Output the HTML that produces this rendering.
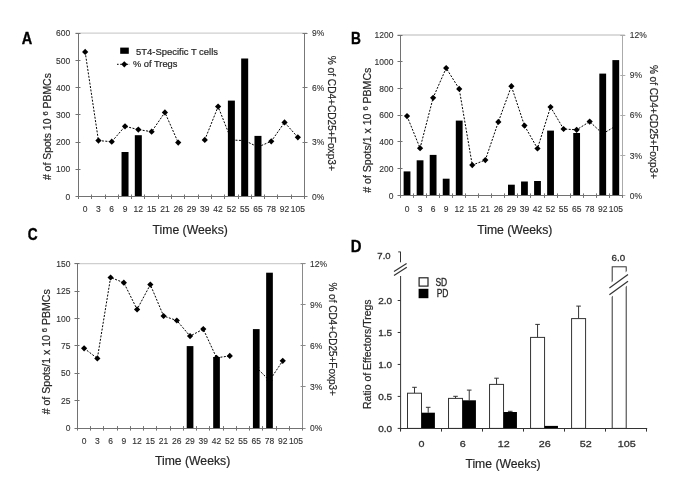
<!DOCTYPE html><html><head><meta charset="utf-8"><style>html,body{margin:0;padding:0;background:#fff;}svg{display:block;font-family:"Liberation Sans", sans-serif;filter:grayscale(1);}</style></head><body>
<svg width="685" height="496" viewBox="0 0 685 496">
<rect width="685" height="496" fill="#fff"/>
<text transform="translate(21.8,43.6) scale(0.88,1)" font-size="16.5" font-weight="bold" fill="#000" stroke="#000" stroke-width="0.35">A</text>
<text transform="translate(351.0,43.6) scale(0.83,1)" font-size="16.5" font-weight="bold" fill="#000" stroke="#000" stroke-width="0.35">B</text>
<text transform="translate(27.7,239.6) scale(0.83,1)" font-size="16.5" font-weight="bold" fill="#000" stroke="#000" stroke-width="0.35">C</text>
<text transform="translate(350.8,251.5) scale(0.9,1)" font-size="16.5" font-weight="bold" fill="#000" stroke="#000" stroke-width="0.35">D</text>
<line x1="75.50" y1="33.10" x2="307.00" y2="33.10" stroke="#cfcfcf" stroke-width="1.3" />
<line x1="75.50" y1="196.50" x2="80.50" y2="196.50" stroke="#727272" stroke-width="1" />
<text transform="translate(70.30,199.70) scale(1.0,1.07)" x="0" y="0" font-size="8.5" text-anchor="end" fill="#333333" stroke="#333333" stroke-width="0.12" >0</text>
<line x1="75.50" y1="169.50" x2="80.50" y2="169.50" stroke="#727272" stroke-width="1" />
<text transform="translate(70.30,172.47) scale(1.0,1.07)" x="0" y="0" font-size="8.5" text-anchor="end" fill="#333333" stroke="#333333" stroke-width="0.12" >100</text>
<line x1="75.50" y1="142.50" x2="80.50" y2="142.50" stroke="#727272" stroke-width="1" />
<text transform="translate(70.30,145.23) scale(1.0,1.07)" x="0" y="0" font-size="8.5" text-anchor="end" fill="#333333" stroke="#333333" stroke-width="0.12" >200</text>
<line x1="75.50" y1="114.50" x2="80.50" y2="114.50" stroke="#727272" stroke-width="1" />
<text transform="translate(70.30,118.00) scale(1.0,1.07)" x="0" y="0" font-size="8.5" text-anchor="end" fill="#333333" stroke="#333333" stroke-width="0.12" >300</text>
<line x1="75.50" y1="87.50" x2="80.50" y2="87.50" stroke="#727272" stroke-width="1" />
<text transform="translate(70.30,90.77) scale(1.0,1.07)" x="0" y="0" font-size="8.5" text-anchor="end" fill="#333333" stroke="#333333" stroke-width="0.12" >400</text>
<line x1="75.50" y1="60.50" x2="80.50" y2="60.50" stroke="#727272" stroke-width="1" />
<text transform="translate(70.30,63.53) scale(1.0,1.07)" x="0" y="0" font-size="8.5" text-anchor="end" fill="#333333" stroke="#333333" stroke-width="0.12" >500</text>
<line x1="75.50" y1="33.50" x2="80.50" y2="33.50" stroke="#727272" stroke-width="1" />
<text transform="translate(70.30,36.30) scale(1.0,1.07)" x="0" y="0" font-size="8.5" text-anchor="end" fill="#333333" stroke="#333333" stroke-width="0.12" >600</text>
<line x1="302.50" y1="196.50" x2="307.50" y2="196.50" stroke="#777777" stroke-width="1" />
<text transform="translate(312.00,199.70) scale(1.0,1.07)" x="0" y="0" font-size="8.5" text-anchor="start" fill="#333333" stroke="#333333" stroke-width="0.12" >0%</text>
<line x1="302.50" y1="142.50" x2="307.50" y2="142.50" stroke="#777777" stroke-width="1" />
<text transform="translate(312.00,145.23) scale(1.0,1.07)" x="0" y="0" font-size="8.5" text-anchor="start" fill="#333333" stroke="#333333" stroke-width="0.12" >3%</text>
<line x1="302.50" y1="87.50" x2="307.50" y2="87.50" stroke="#777777" stroke-width="1" />
<text transform="translate(312.00,90.77) scale(1.0,1.07)" x="0" y="0" font-size="8.5" text-anchor="start" fill="#333333" stroke="#333333" stroke-width="0.12" >6%</text>
<line x1="302.50" y1="33.50" x2="307.50" y2="33.50" stroke="#777777" stroke-width="1" />
<text transform="translate(312.00,36.30) scale(1.0,1.07)" x="0" y="0" font-size="8.5" text-anchor="start" fill="#333333" stroke="#333333" stroke-width="0.12" >9%</text>
<line x1="78.50" y1="194.50" x2="78.50" y2="199.00" stroke="#727272" stroke-width="1" />
<line x1="91.50" y1="194.50" x2="91.50" y2="199.00" stroke="#727272" stroke-width="1" />
<line x1="105.50" y1="194.50" x2="105.50" y2="199.00" stroke="#727272" stroke-width="1" />
<line x1="118.50" y1="194.50" x2="118.50" y2="199.00" stroke="#727272" stroke-width="1" />
<line x1="131.50" y1="194.50" x2="131.50" y2="199.00" stroke="#727272" stroke-width="1" />
<line x1="144.50" y1="194.50" x2="144.50" y2="199.00" stroke="#727272" stroke-width="1" />
<line x1="158.50" y1="194.50" x2="158.50" y2="199.00" stroke="#727272" stroke-width="1" />
<line x1="171.50" y1="194.50" x2="171.50" y2="199.00" stroke="#727272" stroke-width="1" />
<line x1="184.50" y1="194.50" x2="184.50" y2="199.00" stroke="#727272" stroke-width="1" />
<line x1="198.50" y1="194.50" x2="198.50" y2="199.00" stroke="#727272" stroke-width="1" />
<line x1="211.50" y1="194.50" x2="211.50" y2="199.00" stroke="#727272" stroke-width="1" />
<line x1="224.50" y1="194.50" x2="224.50" y2="199.00" stroke="#727272" stroke-width="1" />
<line x1="238.50" y1="194.50" x2="238.50" y2="199.00" stroke="#727272" stroke-width="1" />
<line x1="251.50" y1="194.50" x2="251.50" y2="199.00" stroke="#727272" stroke-width="1" />
<line x1="264.50" y1="194.50" x2="264.50" y2="199.00" stroke="#727272" stroke-width="1" />
<line x1="277.50" y1="194.50" x2="277.50" y2="199.00" stroke="#727272" stroke-width="1" />
<line x1="291.50" y1="194.50" x2="291.50" y2="199.00" stroke="#727272" stroke-width="1" />
<line x1="304.50" y1="194.50" x2="304.50" y2="199.00" stroke="#727272" stroke-width="1" />
<text transform="translate(85.15,212.10) scale(1.0,1.07)" x="0" y="0" font-size="8.5" text-anchor="middle" fill="#333333" stroke="#333333" stroke-width="0.12" >0</text>
<text transform="translate(98.44,212.10) scale(1.0,1.07)" x="0" y="0" font-size="8.5" text-anchor="middle" fill="#333333" stroke="#333333" stroke-width="0.12" >3</text>
<text transform="translate(111.74,212.10) scale(1.0,1.07)" x="0" y="0" font-size="8.5" text-anchor="middle" fill="#333333" stroke="#333333" stroke-width="0.12" >6</text>
<text transform="translate(125.03,212.10) scale(1.0,1.07)" x="0" y="0" font-size="8.5" text-anchor="middle" fill="#333333" stroke="#333333" stroke-width="0.12" >9</text>
<text transform="translate(138.32,212.10) scale(1.0,1.07)" x="0" y="0" font-size="8.5" text-anchor="middle" fill="#333333" stroke="#333333" stroke-width="0.12" >12</text>
<text transform="translate(151.62,212.10) scale(1.0,1.07)" x="0" y="0" font-size="8.5" text-anchor="middle" fill="#333333" stroke="#333333" stroke-width="0.12" >15</text>
<text transform="translate(164.91,212.10) scale(1.0,1.07)" x="0" y="0" font-size="8.5" text-anchor="middle" fill="#333333" stroke="#333333" stroke-width="0.12" >21</text>
<text transform="translate(178.21,212.10) scale(1.0,1.07)" x="0" y="0" font-size="8.5" text-anchor="middle" fill="#333333" stroke="#333333" stroke-width="0.12" >26</text>
<text transform="translate(191.50,212.10) scale(1.0,1.07)" x="0" y="0" font-size="8.5" text-anchor="middle" fill="#333333" stroke="#333333" stroke-width="0.12" >29</text>
<text transform="translate(204.79,212.10) scale(1.0,1.07)" x="0" y="0" font-size="8.5" text-anchor="middle" fill="#333333" stroke="#333333" stroke-width="0.12" >39</text>
<text transform="translate(218.09,212.10) scale(1.0,1.07)" x="0" y="0" font-size="8.5" text-anchor="middle" fill="#333333" stroke="#333333" stroke-width="0.12" >42</text>
<text transform="translate(231.38,212.10) scale(1.0,1.07)" x="0" y="0" font-size="8.5" text-anchor="middle" fill="#333333" stroke="#333333" stroke-width="0.12" >52</text>
<text transform="translate(244.68,212.10) scale(1.0,1.07)" x="0" y="0" font-size="8.5" text-anchor="middle" fill="#333333" stroke="#333333" stroke-width="0.12" >55</text>
<text transform="translate(257.97,212.10) scale(1.0,1.07)" x="0" y="0" font-size="8.5" text-anchor="middle" fill="#333333" stroke="#333333" stroke-width="0.12" >65</text>
<text transform="translate(271.26,212.10) scale(1.0,1.07)" x="0" y="0" font-size="8.5" text-anchor="middle" fill="#333333" stroke="#333333" stroke-width="0.12" >78</text>
<text transform="translate(284.56,212.10) scale(1.0,1.07)" x="0" y="0" font-size="8.5" text-anchor="middle" fill="#333333" stroke="#333333" stroke-width="0.12" >92</text>
<text transform="translate(297.85,212.10) scale(1.0,1.07)" x="0" y="0" font-size="8.5" text-anchor="middle" fill="#333333" stroke="#333333" stroke-width="0.12" >105</text>
<path d="M85.15 51.90L98.44 140.60L111.74 141.70L125.03 126.30L138.32 129.60L151.62 131.70L164.91 112.40L178.21 142.60" fill="none" stroke="#000" stroke-width="1" stroke-dasharray="2 1.45"/>
<path d="M85.15 48.80L88.25 51.90L85.15 55.00L82.05 51.90Z" fill="#000"/>
<path d="M98.44 137.50L101.54 140.60L98.44 143.70L95.34 140.60Z" fill="#000"/>
<path d="M111.74 138.60L114.84 141.70L111.74 144.80L108.64 141.70Z" fill="#000"/>
<path d="M125.03 123.20L128.13 126.30L125.03 129.40L121.93 126.30Z" fill="#000"/>
<path d="M138.32 126.50L141.42 129.60L138.32 132.70L135.22 129.60Z" fill="#000"/>
<path d="M151.62 128.60L154.72 131.70L151.62 134.80L148.52 131.70Z" fill="#000"/>
<path d="M164.91 109.30L168.01 112.40L164.91 115.50L161.81 112.40Z" fill="#000"/>
<path d="M178.21 139.50L181.31 142.60L178.21 145.70L175.11 142.60Z" fill="#000"/>
<path d="M204.79 139.90L218.09 106.60L231.38 140.00L244.68 140.60L257.97 147.00L271.26 141.30L284.56 122.40L297.85 137.30" fill="none" stroke="#000" stroke-width="1" stroke-dasharray="2 1.45"/>
<path d="M204.79 136.80L207.89 139.90L204.79 143.00L201.69 139.90Z" fill="#000"/>
<path d="M218.09 103.50L221.19 106.60L218.09 109.70L214.99 106.60Z" fill="#000"/>
<path d="M231.38 136.90L234.48 140.00L231.38 143.10L228.28 140.00Z" fill="#000"/>
<path d="M244.68 137.50L247.78 140.60L244.68 143.70L241.58 140.60Z" fill="#000"/>
<path d="M257.97 143.90L261.07 147.00L257.97 150.10L254.87 147.00Z" fill="#000"/>
<path d="M271.26 138.20L274.36 141.30L271.26 144.40L268.16 141.30Z" fill="#000"/>
<path d="M284.56 119.30L287.66 122.40L284.56 125.50L281.46 122.40Z" fill="#000"/>
<path d="M297.85 134.20L300.95 137.30L297.85 140.40L294.75 137.30Z" fill="#000"/>
<rect x="121.53" y="152.00" width="7.00" height="44.50" fill="#000"/>
<rect x="134.82" y="135.20" width="7.00" height="61.30" fill="#000"/>
<rect x="227.88" y="100.60" width="7.00" height="95.90" fill="#000"/>
<rect x="241.18" y="58.50" width="7.00" height="138.00" fill="#000"/>
<rect x="254.47" y="135.90" width="7.00" height="60.60" fill="#000"/>
<line x1="78.50" y1="33.10" x2="78.50" y2="197.00" stroke="#727272" stroke-width="1" />
<line x1="304.50" y1="33.10" x2="304.50" y2="197.00" stroke="#777777" stroke-width="1" />
<line x1="78.00" y1="196.50" x2="305.00" y2="196.50" stroke="#727272" stroke-width="1" />
<text x="152.60" y="233.70" font-size="12" text-anchor="start" fill="#262626" font-weight="normal" textLength="75.2" lengthAdjust="spacingAndGlyphs" stroke="#262626" stroke-width="0.2" >Time (Weeks)</text>
<text transform="translate(47.40,126.60) rotate(-90)" x="0" y="0" dy="0.35em" font-size="10.5" text-anchor="middle" fill="#262626" textLength="107" lengthAdjust="spacingAndGlyphs" stroke="#262626" stroke-width="0.2"># of Spots 10 <tspan font-size="7.5" dy="-3">6</tspan><tspan dy="3"> PBMCs</tspan></text>
<text transform="translate(331.50,113.30) rotate(90)" x="0" y="0" dy="0.35em" font-size="10.5" text-anchor="middle" fill="#262626" textLength="115" lengthAdjust="spacingAndGlyphs" stroke="#262626" stroke-width="0.2">% of CD4+CD25+Foxp3+</text>
<rect x="120.2" y="47.6" width="8.6" height="6.2" fill="#000"/>
<text x="136.00" y="55.30" font-size="9.5" text-anchor="start" fill="#262626" font-weight="normal" textLength="82" lengthAdjust="spacingAndGlyphs" stroke="#262626" stroke-width="0.2" >5T4-Specific T cells</text>
<line x1="117.00" y1="64.30" x2="130.00" y2="64.30" stroke="#000" stroke-width="1" stroke-dasharray="1.6 1.6"/>
<path d="M124.30 61.20L127.40 64.30L124.30 67.40L121.20 64.30Z" fill="#000"/>
<text x="132.90" y="67.00" font-size="9.4" text-anchor="start" fill="#262626" font-weight="normal" textLength="44.5" lengthAdjust="spacingAndGlyphs" stroke="#262626" stroke-width="0.2" >% of Tregs</text>
<line x1="397.50" y1="35.00" x2="624.80" y2="35.00" stroke="#cfcfcf" stroke-width="1.3" />
<line x1="397.50" y1="195.50" x2="402.50" y2="195.50" stroke="#727272" stroke-width="1" />
<text transform="translate(393.50,198.60) scale(1.0,1.07)" x="0" y="0" font-size="8.5" text-anchor="end" fill="#333333" stroke="#333333" stroke-width="0.12" >0</text>
<line x1="397.50" y1="168.50" x2="402.50" y2="168.50" stroke="#727272" stroke-width="1" />
<text transform="translate(393.50,171.87) scale(1.0,1.07)" x="0" y="0" font-size="8.5" text-anchor="end" fill="#333333" stroke="#333333" stroke-width="0.12" >200</text>
<line x1="397.50" y1="141.50" x2="402.50" y2="141.50" stroke="#727272" stroke-width="1" />
<text transform="translate(393.50,145.13) scale(1.0,1.07)" x="0" y="0" font-size="8.5" text-anchor="end" fill="#333333" stroke="#333333" stroke-width="0.12" >400</text>
<line x1="397.50" y1="115.50" x2="402.50" y2="115.50" stroke="#727272" stroke-width="1" />
<text transform="translate(393.50,118.40) scale(1.0,1.07)" x="0" y="0" font-size="8.5" text-anchor="end" fill="#333333" stroke="#333333" stroke-width="0.12" >600</text>
<line x1="397.50" y1="88.50" x2="402.50" y2="88.50" stroke="#727272" stroke-width="1" />
<text transform="translate(393.50,91.67) scale(1.0,1.07)" x="0" y="0" font-size="8.5" text-anchor="end" fill="#333333" stroke="#333333" stroke-width="0.12" >800</text>
<line x1="397.50" y1="61.50" x2="402.50" y2="61.50" stroke="#727272" stroke-width="1" />
<text transform="translate(393.50,64.93) scale(1.0,1.07)" x="0" y="0" font-size="8.5" text-anchor="end" fill="#333333" stroke="#333333" stroke-width="0.12" >1000</text>
<line x1="397.50" y1="35.50" x2="402.50" y2="35.50" stroke="#727272" stroke-width="1" />
<text transform="translate(393.50,38.20) scale(1.0,1.07)" x="0" y="0" font-size="8.5" text-anchor="end" fill="#333333" stroke="#333333" stroke-width="0.12" >1200</text>
<line x1="620.30" y1="195.50" x2="625.30" y2="195.50" stroke="#ababab" stroke-width="1" />
<text transform="translate(629.80,198.60) scale(1.0,1.07)" x="0" y="0" font-size="8.5" text-anchor="start" fill="#333333" stroke="#333333" stroke-width="0.12" >0%</text>
<line x1="620.30" y1="155.50" x2="625.30" y2="155.50" stroke="#ababab" stroke-width="1" />
<text transform="translate(629.80,158.50) scale(1.0,1.07)" x="0" y="0" font-size="8.5" text-anchor="start" fill="#333333" stroke="#333333" stroke-width="0.12" >3%</text>
<line x1="620.30" y1="115.50" x2="625.30" y2="115.50" stroke="#ababab" stroke-width="1" />
<text transform="translate(629.80,118.40) scale(1.0,1.07)" x="0" y="0" font-size="8.5" text-anchor="start" fill="#333333" stroke="#333333" stroke-width="0.12" >6%</text>
<line x1="620.30" y1="75.50" x2="625.30" y2="75.50" stroke="#ababab" stroke-width="1" />
<text transform="translate(629.80,78.30) scale(1.0,1.07)" x="0" y="0" font-size="8.5" text-anchor="start" fill="#333333" stroke="#333333" stroke-width="0.12" >9%</text>
<line x1="620.30" y1="35.50" x2="625.30" y2="35.50" stroke="#ababab" stroke-width="1" />
<text transform="translate(629.80,38.20) scale(1.0,1.07)" x="0" y="0" font-size="8.5" text-anchor="start" fill="#333333" stroke="#333333" stroke-width="0.12" >12%</text>
<line x1="400.50" y1="193.40" x2="400.50" y2="197.90" stroke="#727272" stroke-width="1" />
<line x1="413.50" y1="193.40" x2="413.50" y2="197.90" stroke="#727272" stroke-width="1" />
<line x1="426.50" y1="193.40" x2="426.50" y2="197.90" stroke="#727272" stroke-width="1" />
<line x1="439.50" y1="193.40" x2="439.50" y2="197.90" stroke="#727272" stroke-width="1" />
<line x1="452.50" y1="193.40" x2="452.50" y2="197.90" stroke="#727272" stroke-width="1" />
<line x1="465.50" y1="193.40" x2="465.50" y2="197.90" stroke="#727272" stroke-width="1" />
<line x1="478.50" y1="193.40" x2="478.50" y2="197.90" stroke="#727272" stroke-width="1" />
<line x1="491.50" y1="193.40" x2="491.50" y2="197.90" stroke="#727272" stroke-width="1" />
<line x1="504.50" y1="193.40" x2="504.50" y2="197.90" stroke="#727272" stroke-width="1" />
<line x1="517.50" y1="193.40" x2="517.50" y2="197.90" stroke="#727272" stroke-width="1" />
<line x1="530.50" y1="193.40" x2="530.50" y2="197.90" stroke="#727272" stroke-width="1" />
<line x1="544.50" y1="193.40" x2="544.50" y2="197.90" stroke="#727272" stroke-width="1" />
<line x1="557.50" y1="193.40" x2="557.50" y2="197.90" stroke="#727272" stroke-width="1" />
<line x1="570.50" y1="193.40" x2="570.50" y2="197.90" stroke="#727272" stroke-width="1" />
<line x1="583.50" y1="193.40" x2="583.50" y2="197.90" stroke="#727272" stroke-width="1" />
<line x1="596.50" y1="193.40" x2="596.50" y2="197.90" stroke="#727272" stroke-width="1" />
<line x1="609.50" y1="193.40" x2="609.50" y2="197.90" stroke="#727272" stroke-width="1" />
<line x1="622.50" y1="193.40" x2="622.50" y2="197.90" stroke="#727272" stroke-width="1" />
<text transform="translate(407.02,212.10) scale(1.0,1.07)" x="0" y="0" font-size="8.5" text-anchor="middle" fill="#333333" stroke="#333333" stroke-width="0.12" >0</text>
<text transform="translate(420.07,212.10) scale(1.0,1.07)" x="0" y="0" font-size="8.5" text-anchor="middle" fill="#333333" stroke="#333333" stroke-width="0.12" >3</text>
<text transform="translate(433.12,212.10) scale(1.0,1.07)" x="0" y="0" font-size="8.5" text-anchor="middle" fill="#333333" stroke="#333333" stroke-width="0.12" >6</text>
<text transform="translate(446.16,212.10) scale(1.0,1.07)" x="0" y="0" font-size="8.5" text-anchor="middle" fill="#333333" stroke="#333333" stroke-width="0.12" >9</text>
<text transform="translate(459.21,212.10) scale(1.0,1.07)" x="0" y="0" font-size="8.5" text-anchor="middle" fill="#333333" stroke="#333333" stroke-width="0.12" >12</text>
<text transform="translate(472.26,212.10) scale(1.0,1.07)" x="0" y="0" font-size="8.5" text-anchor="middle" fill="#333333" stroke="#333333" stroke-width="0.12" >15</text>
<text transform="translate(485.31,212.10) scale(1.0,1.07)" x="0" y="0" font-size="8.5" text-anchor="middle" fill="#333333" stroke="#333333" stroke-width="0.12" >21</text>
<text transform="translate(498.35,212.10) scale(1.0,1.07)" x="0" y="0" font-size="8.5" text-anchor="middle" fill="#333333" stroke="#333333" stroke-width="0.12" >26</text>
<text transform="translate(511.40,212.10) scale(1.0,1.07)" x="0" y="0" font-size="8.5" text-anchor="middle" fill="#333333" stroke="#333333" stroke-width="0.12" >29</text>
<text transform="translate(524.45,212.10) scale(1.0,1.07)" x="0" y="0" font-size="8.5" text-anchor="middle" fill="#333333" stroke="#333333" stroke-width="0.12" >39</text>
<text transform="translate(537.49,212.10) scale(1.0,1.07)" x="0" y="0" font-size="8.5" text-anchor="middle" fill="#333333" stroke="#333333" stroke-width="0.12" >42</text>
<text transform="translate(550.54,212.10) scale(1.0,1.07)" x="0" y="0" font-size="8.5" text-anchor="middle" fill="#333333" stroke="#333333" stroke-width="0.12" >52</text>
<text transform="translate(563.59,212.10) scale(1.0,1.07)" x="0" y="0" font-size="8.5" text-anchor="middle" fill="#333333" stroke="#333333" stroke-width="0.12" >55</text>
<text transform="translate(576.64,212.10) scale(1.0,1.07)" x="0" y="0" font-size="8.5" text-anchor="middle" fill="#333333" stroke="#333333" stroke-width="0.12" >65</text>
<text transform="translate(589.68,212.10) scale(1.0,1.07)" x="0" y="0" font-size="8.5" text-anchor="middle" fill="#333333" stroke="#333333" stroke-width="0.12" >78</text>
<text transform="translate(602.73,212.10) scale(1.0,1.07)" x="0" y="0" font-size="8.5" text-anchor="middle" fill="#333333" stroke="#333333" stroke-width="0.12" >92</text>
<text transform="translate(615.78,212.10) scale(1.0,1.07)" x="0" y="0" font-size="8.5" text-anchor="middle" fill="#333333" stroke="#333333" stroke-width="0.12" >105</text>
<path d="M407.02 116.10L420.07 148.20L433.12 97.80L446.16 68.10L459.21 88.90L472.26 165.10L485.31 160.10L498.35 121.90L511.40 86.20L524.45 125.60L537.49 148.50L550.54 107.00L563.59 129.00L576.64 129.80L589.68 121.60L602.73 133.80L615.78 126.00" fill="none" stroke="#000" stroke-width="1" stroke-dasharray="2 1.45"/>
<path d="M407.02 113.00L410.12 116.10L407.02 119.20L403.92 116.10Z" fill="#000"/>
<path d="M420.07 145.10L423.17 148.20L420.07 151.30L416.97 148.20Z" fill="#000"/>
<path d="M433.12 94.70L436.22 97.80L433.12 100.90L430.02 97.80Z" fill="#000"/>
<path d="M446.16 65.00L449.26 68.10L446.16 71.20L443.06 68.10Z" fill="#000"/>
<path d="M459.21 85.80L462.31 88.90L459.21 92.00L456.11 88.90Z" fill="#000"/>
<path d="M472.26 162.00L475.36 165.10L472.26 168.20L469.16 165.10Z" fill="#000"/>
<path d="M485.31 157.00L488.41 160.10L485.31 163.20L482.21 160.10Z" fill="#000"/>
<path d="M498.35 118.80L501.45 121.90L498.35 125.00L495.25 121.90Z" fill="#000"/>
<path d="M511.40 83.10L514.50 86.20L511.40 89.30L508.30 86.20Z" fill="#000"/>
<path d="M524.45 122.50L527.55 125.60L524.45 128.70L521.35 125.60Z" fill="#000"/>
<path d="M537.49 145.40L540.59 148.50L537.49 151.60L534.39 148.50Z" fill="#000"/>
<path d="M550.54 103.90L553.64 107.00L550.54 110.10L547.44 107.00Z" fill="#000"/>
<path d="M563.59 125.90L566.69 129.00L563.59 132.10L560.49 129.00Z" fill="#000"/>
<path d="M576.64 126.70L579.74 129.80L576.64 132.90L573.54 129.80Z" fill="#000"/>
<path d="M589.68 118.50L592.78 121.60L589.68 124.70L586.58 121.60Z" fill="#000"/>
<path d="M602.73 130.70L605.83 133.80L602.73 136.90L599.63 133.80Z" fill="#000"/>
<path d="M615.78 122.90L618.88 126.00L615.78 129.10L612.68 126.00Z" fill="#000"/>
<rect x="403.62" y="171.40" width="6.80" height="24.00" fill="#000"/>
<rect x="416.67" y="160.30" width="6.80" height="35.10" fill="#000"/>
<rect x="429.72" y="154.90" width="6.80" height="40.50" fill="#000"/>
<rect x="442.76" y="178.70" width="6.80" height="16.70" fill="#000"/>
<rect x="455.81" y="120.60" width="6.80" height="74.80" fill="#000"/>
<rect x="508.00" y="184.70" width="6.80" height="10.70" fill="#000"/>
<rect x="521.05" y="181.50" width="6.80" height="13.90" fill="#000"/>
<rect x="534.09" y="181.00" width="6.80" height="14.40" fill="#000"/>
<rect x="547.14" y="130.60" width="6.80" height="64.80" fill="#000"/>
<rect x="573.24" y="133.00" width="6.80" height="62.40" fill="#000"/>
<rect x="599.33" y="73.60" width="6.80" height="121.80" fill="#000"/>
<rect x="612.38" y="60.10" width="6.80" height="135.30" fill="#000"/>
<line x1="400.50" y1="35.00" x2="400.50" y2="196.00" stroke="#727272" stroke-width="1" />
<line x1="622.50" y1="35.00" x2="622.50" y2="196.00" stroke="#ababab" stroke-width="1" />
<line x1="400.00" y1="195.50" x2="623.00" y2="195.50" stroke="#727272" stroke-width="1" />
<text x="477.20" y="233.50" font-size="12" text-anchor="start" fill="#262626" font-weight="normal" textLength="75.2" lengthAdjust="spacingAndGlyphs" stroke="#262626" stroke-width="0.2" >Time (Weeks)</text>
<text transform="translate(367.80,130.20) rotate(-90)" x="0" y="0" dy="0.35em" font-size="10.5" text-anchor="middle" fill="#262626" textLength="125" lengthAdjust="spacingAndGlyphs" stroke="#262626" stroke-width="0.2"># of Spots/1 x 10 <tspan font-size="7.5" dy="-3">6</tspan><tspan dy="3"> PBMCs</tspan></text>
<text transform="translate(653.30,121.90) rotate(90)" x="0" y="0" dy="0.35em" font-size="10.5" text-anchor="middle" fill="#262626" textLength="114" lengthAdjust="spacingAndGlyphs" stroke="#262626" stroke-width="0.2">% of CD4+CD25+Foxp3+</text>
<line x1="74.50" y1="263.60" x2="305.10" y2="263.60" stroke="#cfcfcf" stroke-width="1.3" />
<line x1="74.50" y1="428.50" x2="79.50" y2="428.50" stroke="#727272" stroke-width="1" />
<text transform="translate(70.50,431.30) scale(1.0,1.07)" x="0" y="0" font-size="8.5" text-anchor="end" fill="#333333" stroke="#333333" stroke-width="0.12" >0</text>
<line x1="74.50" y1="400.50" x2="79.50" y2="400.50" stroke="#727272" stroke-width="1" />
<text transform="translate(70.50,403.88) scale(1.0,1.07)" x="0" y="0" font-size="8.5" text-anchor="end" fill="#333333" stroke="#333333" stroke-width="0.12" >25</text>
<line x1="74.50" y1="373.50" x2="79.50" y2="373.50" stroke="#727272" stroke-width="1" />
<text transform="translate(70.50,376.47) scale(1.0,1.07)" x="0" y="0" font-size="8.5" text-anchor="end" fill="#333333" stroke="#333333" stroke-width="0.12" >50</text>
<line x1="74.50" y1="345.50" x2="79.50" y2="345.50" stroke="#727272" stroke-width="1" />
<text transform="translate(70.50,349.05) scale(1.0,1.07)" x="0" y="0" font-size="8.5" text-anchor="end" fill="#333333" stroke="#333333" stroke-width="0.12" >75</text>
<line x1="74.50" y1="318.50" x2="79.50" y2="318.50" stroke="#727272" stroke-width="1" />
<text transform="translate(70.50,321.63) scale(1.0,1.07)" x="0" y="0" font-size="8.5" text-anchor="end" fill="#333333" stroke="#333333" stroke-width="0.12" >100</text>
<line x1="74.50" y1="291.50" x2="79.50" y2="291.50" stroke="#727272" stroke-width="1" />
<text transform="translate(70.50,294.22) scale(1.0,1.07)" x="0" y="0" font-size="8.5" text-anchor="end" fill="#333333" stroke="#333333" stroke-width="0.12" >125</text>
<line x1="74.50" y1="263.50" x2="79.50" y2="263.50" stroke="#727272" stroke-width="1" />
<text transform="translate(70.50,266.80) scale(1.0,1.07)" x="0" y="0" font-size="8.5" text-anchor="end" fill="#333333" stroke="#333333" stroke-width="0.12" >150</text>
<line x1="300.60" y1="428.50" x2="305.60" y2="428.50" stroke="#8a8a8a" stroke-width="1" />
<text transform="translate(310.10,431.30) scale(1.0,1.07)" x="0" y="0" font-size="8.5" text-anchor="start" fill="#333333" stroke="#333333" stroke-width="0.12" >0%</text>
<line x1="300.60" y1="386.50" x2="305.60" y2="386.50" stroke="#8a8a8a" stroke-width="1" />
<text transform="translate(310.10,390.18) scale(1.0,1.07)" x="0" y="0" font-size="8.5" text-anchor="start" fill="#333333" stroke="#333333" stroke-width="0.12" >3%</text>
<line x1="300.60" y1="345.50" x2="305.60" y2="345.50" stroke="#8a8a8a" stroke-width="1" />
<text transform="translate(310.10,349.05) scale(1.0,1.07)" x="0" y="0" font-size="8.5" text-anchor="start" fill="#333333" stroke="#333333" stroke-width="0.12" >6%</text>
<line x1="300.60" y1="304.50" x2="305.60" y2="304.50" stroke="#8a8a8a" stroke-width="1" />
<text transform="translate(310.10,307.93) scale(1.0,1.07)" x="0" y="0" font-size="8.5" text-anchor="start" fill="#333333" stroke="#333333" stroke-width="0.12" >9%</text>
<line x1="300.60" y1="263.50" x2="305.60" y2="263.50" stroke="#8a8a8a" stroke-width="1" />
<text transform="translate(310.10,266.80) scale(1.0,1.07)" x="0" y="0" font-size="8.5" text-anchor="start" fill="#333333" stroke="#333333" stroke-width="0.12" >12%</text>
<line x1="77.50" y1="426.10" x2="77.50" y2="430.60" stroke="#727272" stroke-width="1" />
<line x1="90.50" y1="426.10" x2="90.50" y2="430.60" stroke="#727272" stroke-width="1" />
<line x1="103.50" y1="426.10" x2="103.50" y2="430.60" stroke="#727272" stroke-width="1" />
<line x1="117.50" y1="426.10" x2="117.50" y2="430.60" stroke="#727272" stroke-width="1" />
<line x1="130.50" y1="426.10" x2="130.50" y2="430.60" stroke="#727272" stroke-width="1" />
<line x1="143.50" y1="426.10" x2="143.50" y2="430.60" stroke="#727272" stroke-width="1" />
<line x1="156.50" y1="426.10" x2="156.50" y2="430.60" stroke="#727272" stroke-width="1" />
<line x1="170.50" y1="426.10" x2="170.50" y2="430.60" stroke="#727272" stroke-width="1" />
<line x1="183.50" y1="426.10" x2="183.50" y2="430.60" stroke="#727272" stroke-width="1" />
<line x1="196.50" y1="426.10" x2="196.50" y2="430.60" stroke="#727272" stroke-width="1" />
<line x1="209.50" y1="426.10" x2="209.50" y2="430.60" stroke="#727272" stroke-width="1" />
<line x1="223.50" y1="426.10" x2="223.50" y2="430.60" stroke="#727272" stroke-width="1" />
<line x1="236.50" y1="426.10" x2="236.50" y2="430.60" stroke="#727272" stroke-width="1" />
<line x1="249.50" y1="426.10" x2="249.50" y2="430.60" stroke="#727272" stroke-width="1" />
<line x1="262.50" y1="426.10" x2="262.50" y2="430.60" stroke="#727272" stroke-width="1" />
<line x1="276.50" y1="426.10" x2="276.50" y2="430.60" stroke="#727272" stroke-width="1" />
<line x1="289.50" y1="426.10" x2="289.50" y2="430.60" stroke="#727272" stroke-width="1" />
<line x1="302.50" y1="426.10" x2="302.50" y2="430.60" stroke="#727272" stroke-width="1" />
<text transform="translate(84.12,443.50) scale(1.0,1.07)" x="0" y="0" font-size="8.5" text-anchor="middle" fill="#333333" stroke="#333333" stroke-width="0.12" >0</text>
<text transform="translate(97.36,443.50) scale(1.0,1.07)" x="0" y="0" font-size="8.5" text-anchor="middle" fill="#333333" stroke="#333333" stroke-width="0.12" >3</text>
<text transform="translate(110.60,443.50) scale(1.0,1.07)" x="0" y="0" font-size="8.5" text-anchor="middle" fill="#333333" stroke="#333333" stroke-width="0.12" >6</text>
<text transform="translate(123.84,443.50) scale(1.0,1.07)" x="0" y="0" font-size="8.5" text-anchor="middle" fill="#333333" stroke="#333333" stroke-width="0.12" >9</text>
<text transform="translate(137.09,443.50) scale(1.0,1.07)" x="0" y="0" font-size="8.5" text-anchor="middle" fill="#333333" stroke="#333333" stroke-width="0.12" >12</text>
<text transform="translate(150.33,443.50) scale(1.0,1.07)" x="0" y="0" font-size="8.5" text-anchor="middle" fill="#333333" stroke="#333333" stroke-width="0.12" >15</text>
<text transform="translate(163.57,443.50) scale(1.0,1.07)" x="0" y="0" font-size="8.5" text-anchor="middle" fill="#333333" stroke="#333333" stroke-width="0.12" >21</text>
<text transform="translate(176.81,443.50) scale(1.0,1.07)" x="0" y="0" font-size="8.5" text-anchor="middle" fill="#333333" stroke="#333333" stroke-width="0.12" >26</text>
<text transform="translate(190.05,443.50) scale(1.0,1.07)" x="0" y="0" font-size="8.5" text-anchor="middle" fill="#333333" stroke="#333333" stroke-width="0.12" >29</text>
<text transform="translate(203.29,443.50) scale(1.0,1.07)" x="0" y="0" font-size="8.5" text-anchor="middle" fill="#333333" stroke="#333333" stroke-width="0.12" >39</text>
<text transform="translate(216.53,443.50) scale(1.0,1.07)" x="0" y="0" font-size="8.5" text-anchor="middle" fill="#333333" stroke="#333333" stroke-width="0.12" >42</text>
<text transform="translate(229.77,443.50) scale(1.0,1.07)" x="0" y="0" font-size="8.5" text-anchor="middle" fill="#333333" stroke="#333333" stroke-width="0.12" >52</text>
<text transform="translate(243.01,443.50) scale(1.0,1.07)" x="0" y="0" font-size="8.5" text-anchor="middle" fill="#333333" stroke="#333333" stroke-width="0.12" >55</text>
<text transform="translate(256.26,443.50) scale(1.0,1.07)" x="0" y="0" font-size="8.5" text-anchor="middle" fill="#333333" stroke="#333333" stroke-width="0.12" >65</text>
<text transform="translate(269.50,443.50) scale(1.0,1.07)" x="0" y="0" font-size="8.5" text-anchor="middle" fill="#333333" stroke="#333333" stroke-width="0.12" >78</text>
<text transform="translate(282.74,443.50) scale(1.0,1.07)" x="0" y="0" font-size="8.5" text-anchor="middle" fill="#333333" stroke="#333333" stroke-width="0.12" >92</text>
<text transform="translate(295.98,443.50) scale(1.0,1.07)" x="0" y="0" font-size="8.5" text-anchor="middle" fill="#333333" stroke="#333333" stroke-width="0.12" >105</text>
<path d="M84.12 348.30L97.36 358.40L110.60 277.50L123.84 282.70L137.09 309.40L150.33 284.60L163.57 316.00L176.81 320.50L190.05 336.10L203.29 329.10L216.53 357.80L229.77 355.90" fill="none" stroke="#000" stroke-width="1" stroke-dasharray="2 1.45"/>
<path d="M84.12 345.20L87.22 348.30L84.12 351.40L81.02 348.30Z" fill="#000"/>
<path d="M97.36 355.30L100.46 358.40L97.36 361.50L94.26 358.40Z" fill="#000"/>
<path d="M110.60 274.40L113.70 277.50L110.60 280.60L107.50 277.50Z" fill="#000"/>
<path d="M123.84 279.60L126.94 282.70L123.84 285.80L120.74 282.70Z" fill="#000"/>
<path d="M137.09 306.30L140.19 309.40L137.09 312.50L133.99 309.40Z" fill="#000"/>
<path d="M150.33 281.50L153.43 284.60L150.33 287.70L147.23 284.60Z" fill="#000"/>
<path d="M163.57 312.90L166.67 316.00L163.57 319.10L160.47 316.00Z" fill="#000"/>
<path d="M176.81 317.40L179.91 320.50L176.81 323.60L173.71 320.50Z" fill="#000"/>
<path d="M190.05 333.00L193.15 336.10L190.05 339.20L186.95 336.10Z" fill="#000"/>
<path d="M203.29 326.00L206.39 329.10L203.29 332.20L200.19 329.10Z" fill="#000"/>
<path d="M216.53 354.70L219.63 357.80L216.53 360.90L213.43 357.80Z" fill="#000"/>
<path d="M229.77 352.80L232.87 355.90L229.77 359.00L226.67 355.90Z" fill="#000"/>
<path d="M256.26 367.40L269.50 380.60L282.74 360.80" fill="none" stroke="#000" stroke-width="1" stroke-dasharray="2 1.45"/>
<path d="M256.26 364.30L259.36 367.40L256.26 370.50L253.16 367.40Z" fill="#000"/>
<path d="M269.50 377.50L272.60 380.60L269.50 383.70L266.40 380.60Z" fill="#000"/>
<path d="M282.74 357.70L285.84 360.80L282.74 363.90L279.64 360.80Z" fill="#000"/>
<rect x="186.70" y="346.10" width="6.70" height="82.00" fill="#000"/>
<rect x="213.18" y="357.00" width="6.70" height="71.10" fill="#000"/>
<rect x="252.91" y="329.10" width="6.70" height="99.00" fill="#000"/>
<rect x="266.15" y="272.70" width="6.70" height="155.40" fill="#000"/>
<line x1="77.50" y1="263.60" x2="77.50" y2="429.00" stroke="#727272" stroke-width="1" />
<line x1="302.50" y1="263.60" x2="302.50" y2="429.00" stroke="#8a8a8a" stroke-width="1" />
<line x1="77.00" y1="428.50" x2="303.00" y2="428.50" stroke="#727272" stroke-width="1" />
<text x="155.00" y="465.30" font-size="12" text-anchor="start" fill="#262626" font-weight="normal" textLength="75.2" lengthAdjust="spacingAndGlyphs" stroke="#262626" stroke-width="0.2" >Time (Weeks)</text>
<text transform="translate(46.80,351.80) rotate(-90)" x="0" y="0" dy="0.35em" font-size="10.5" text-anchor="middle" fill="#262626" textLength="125" lengthAdjust="spacingAndGlyphs" stroke="#262626" stroke-width="0.2"># of Spots/1 x 10 <tspan font-size="7.5" dy="-3">6</tspan><tspan dy="3"> PBMCs</tspan></text>
<text transform="translate(332.20,339.20) rotate(90)" x="0" y="0" dy="0.35em" font-size="10.5" text-anchor="middle" fill="#262626" textLength="113.5" lengthAdjust="spacingAndGlyphs" stroke="#262626" stroke-width="0.2">% of CD4+CD25+Foxp3+</text>
<line x1="397.70" y1="428.40" x2="400.70" y2="428.40" stroke="#333" stroke-width="1" />
<text transform="translate(392.10,432.10) scale(1.2,1)" x="0" y="0" font-size="8.3" text-anchor="end" fill="#333333" stroke="#333333" stroke-width="0.3" >0.0</text>
<line x1="397.70" y1="396.42" x2="400.70" y2="396.42" stroke="#333" stroke-width="1" />
<text transform="translate(392.10,400.12) scale(1.2,1)" x="0" y="0" font-size="8.3" text-anchor="end" fill="#333333" stroke="#333333" stroke-width="0.3" >0.5</text>
<line x1="397.70" y1="364.45" x2="400.70" y2="364.45" stroke="#333" stroke-width="1" />
<text transform="translate(392.10,368.15) scale(1.2,1)" x="0" y="0" font-size="8.3" text-anchor="end" fill="#333333" stroke="#333333" stroke-width="0.3" >1.0</text>
<line x1="397.70" y1="332.47" x2="400.70" y2="332.47" stroke="#333" stroke-width="1" />
<text transform="translate(392.10,336.17) scale(1.2,1)" x="0" y="0" font-size="8.3" text-anchor="end" fill="#333333" stroke="#333333" stroke-width="0.3" >1.5</text>
<line x1="397.70" y1="300.50" x2="400.70" y2="300.50" stroke="#333" stroke-width="1" />
<text transform="translate(392.10,304.20) scale(1.2,1)" x="0" y="0" font-size="8.3" text-anchor="end" fill="#333333" stroke="#333333" stroke-width="0.3" >2.0</text>
<line x1="398.20" y1="251.90" x2="400.70" y2="251.90" stroke="#333" stroke-width="1" />
<text transform="translate(390.60,259.00) scale(1.12,1)" x="0" y="0" font-size="8.5" text-anchor="end" fill="#333333" stroke="#333333" stroke-width="0.3" >7.0</text>
<line x1="414.50" y1="393.20" x2="414.50" y2="387.30" stroke="#333" stroke-width="1" />
<line x1="412.20" y1="387.30" x2="416.80" y2="387.30" stroke="#333" stroke-width="1" />
<line x1="428.20" y1="412.70" x2="428.20" y2="407.30" stroke="#333" stroke-width="1" />
<line x1="425.90" y1="407.30" x2="430.50" y2="407.30" stroke="#333" stroke-width="1" />
<rect x="407.50" y="393.20" width="14.00" height="35.20" fill="#fff" stroke="#333" stroke-width="1"/>
<rect x="421.50" y="412.70" width="13.40" height="15.70" fill="#000"/>
<line x1="455.52" y1="398.40" x2="455.52" y2="396.30" stroke="#333" stroke-width="1" />
<line x1="453.22" y1="396.30" x2="457.82" y2="396.30" stroke="#333" stroke-width="1" />
<line x1="469.22" y1="400.30" x2="469.22" y2="390.10" stroke="#333" stroke-width="1" />
<line x1="466.92" y1="390.10" x2="471.52" y2="390.10" stroke="#333" stroke-width="1" />
<rect x="448.52" y="398.40" width="14.00" height="30.00" fill="#fff" stroke="#333" stroke-width="1"/>
<rect x="462.52" y="400.30" width="13.40" height="28.10" fill="#000"/>
<line x1="496.54" y1="384.40" x2="496.54" y2="378.20" stroke="#333" stroke-width="1" />
<line x1="494.24" y1="378.20" x2="498.84" y2="378.20" stroke="#333" stroke-width="1" />
<line x1="510.24" y1="412.00" x2="510.24" y2="411.30" stroke="#333" stroke-width="1" />
<line x1="507.94" y1="411.30" x2="512.54" y2="411.30" stroke="#333" stroke-width="1" />
<rect x="489.54" y="384.40" width="14.00" height="44.00" fill="#fff" stroke="#333" stroke-width="1"/>
<rect x="503.54" y="412.00" width="13.40" height="16.40" fill="#000"/>
<line x1="537.56" y1="337.40" x2="537.56" y2="324.40" stroke="#333" stroke-width="1" />
<line x1="535.26" y1="324.40" x2="539.86" y2="324.40" stroke="#333" stroke-width="1" />
<rect x="530.56" y="337.40" width="14.00" height="91.00" fill="#fff" stroke="#333" stroke-width="1"/>
<rect x="544.56" y="425.90" width="13.40" height="2.50" fill="#000"/>
<line x1="578.58" y1="318.60" x2="578.58" y2="306.10" stroke="#333" stroke-width="1" />
<line x1="576.28" y1="306.10" x2="580.88" y2="306.10" stroke="#333" stroke-width="1" />
<rect x="571.58" y="318.60" width="14.00" height="109.80" fill="#fff" stroke="#333" stroke-width="1"/>
<rect x="612.20" y="266.8" width="14.00" height="161.60" fill="#fff" stroke="#333" stroke-width="1"/>
<path d="M607 285.5 L630 269 L630 283.6 L607 300.1 Z" fill="#fff"/>
<line x1="609.40" y1="287.90" x2="628.00" y2="274.60" stroke="#333" stroke-width="1.2" />
<line x1="609.40" y1="294.80" x2="628.00" y2="281.30" stroke="#333" stroke-width="1.2" />
<text transform="translate(618.40,261.30) scale(1.15,1)" x="0" y="0" font-size="8.5" text-anchor="middle" fill="#333333" stroke="#333333" stroke-width="0.3" >6.0</text>
<line x1="400.50" y1="251.90" x2="400.50" y2="262.30" stroke="#333" stroke-width="1" />
<line x1="400.60" y1="276.00" x2="400.60" y2="430.60" stroke="#333" stroke-width="1" />
<line x1="394.00" y1="271.60" x2="406.60" y2="263.40" stroke="#333" stroke-width="1.2" />
<line x1="394.00" y1="275.60" x2="406.80" y2="267.20" stroke="#333" stroke-width="1.2" />
<line x1="400.70" y1="428.50" x2="647.20" y2="428.50" stroke="#333" stroke-width="1" />
<line x1="400.50" y1="428.40" x2="400.50" y2="431.60" stroke="#333" stroke-width="1" />
<line x1="441.50" y1="428.40" x2="441.50" y2="431.60" stroke="#333" stroke-width="1" />
<line x1="482.50" y1="428.40" x2="482.50" y2="431.60" stroke="#333" stroke-width="1" />
<line x1="523.50" y1="428.40" x2="523.50" y2="431.60" stroke="#333" stroke-width="1" />
<line x1="564.50" y1="428.40" x2="564.50" y2="431.60" stroke="#333" stroke-width="1" />
<line x1="605.50" y1="428.40" x2="605.50" y2="431.60" stroke="#333" stroke-width="1" />
<line x1="646.50" y1="428.40" x2="646.50" y2="431.60" stroke="#333" stroke-width="1" />
<text transform="translate(421.61,446.80) scale(1.17,1)" x="0" y="0" font-size="9.2" text-anchor="middle" fill="#333333" stroke="#333333" stroke-width="0.3" >0</text>
<text transform="translate(462.63,446.80) scale(1.17,1)" x="0" y="0" font-size="9.2" text-anchor="middle" fill="#333333" stroke="#333333" stroke-width="0.3" >6</text>
<text transform="translate(503.65,446.80) scale(1.17,1)" x="0" y="0" font-size="9.2" text-anchor="middle" fill="#333333" stroke="#333333" stroke-width="0.3" >12</text>
<text transform="translate(544.67,446.80) scale(1.17,1)" x="0" y="0" font-size="9.2" text-anchor="middle" fill="#333333" stroke="#333333" stroke-width="0.3" >26</text>
<text transform="translate(585.69,446.80) scale(1.17,1)" x="0" y="0" font-size="9.2" text-anchor="middle" fill="#333333" stroke="#333333" stroke-width="0.3" >52</text>
<text transform="translate(626.71,446.80) scale(1.17,1)" x="0" y="0" font-size="9.2" text-anchor="middle" fill="#333333" stroke="#333333" stroke-width="0.3" >105</text>
<text x="465.40" y="467.60" font-size="12" text-anchor="start" fill="#262626" font-weight="normal" textLength="75.2" lengthAdjust="spacingAndGlyphs" stroke="#262626" stroke-width="0.2" >Time (Weeks)</text>
<text transform="translate(367.70,354.20) rotate(-90)" x="0" y="0" dy="0.35em" font-size="10" text-anchor="middle" fill="#262626" textLength="109.5" lengthAdjust="spacingAndGlyphs" stroke="#262626" stroke-width="0.2">Ratio of Effectors/Tregs</text>
<rect x="419.1" y="277.8" width="8.9" height="8.3" fill="#fff" stroke="#222" stroke-width="1.2"/>
<rect x="418.6" y="288.8" width="9.8" height="9.4" fill="#000"/>
<text x="435.40" y="285.80" font-size="10" text-anchor="start" fill="#262626" font-weight="normal" textLength="11.8" lengthAdjust="spacingAndGlyphs" stroke="#262626" stroke-width="0.3" >SD</text>
<text x="436.70" y="297.30" font-size="10" text-anchor="start" fill="#262626" font-weight="normal" textLength="11.8" lengthAdjust="spacingAndGlyphs" stroke="#262626" stroke-width="0.3" >PD</text>
</svg></body></html>
